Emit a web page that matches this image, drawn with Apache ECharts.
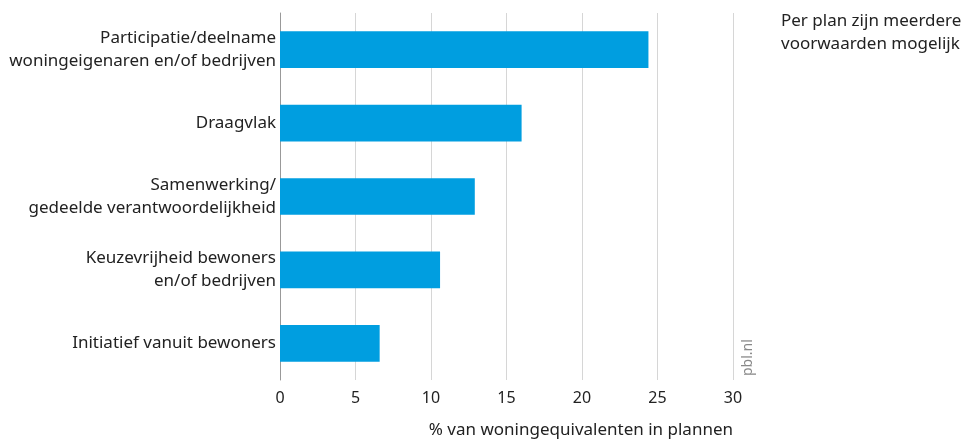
<!DOCTYPE html>
<html>
<head>
<meta charset="utf-8">
<script src="https://cdn.jsdelivr.net/npm/echarts@6/dist/echarts.min.js"></script>
<style>
  html, body { margin: 0; padding: 0; background: #fff; }
  #chart { width: 961px; height: 441px; }
</style>
</head>
<body>
<div id="chart"></div>
<script>
// categories top to bottom
const categories = [
    'Participatie/deelname\nwoningeigenaren en/of bedrijven',
    'Draagvlak',
    'Samenwerking/\ngedeelde verantwoordelijkheid',
    'Keuzevrijheid bewoners\nen/of bedrijven',
    'Initiatief vanuit bewoners'
];
const values = [24.4, 16.0, 12.9, 10.6, 6.6];
const tickMin = 0, tickMax = 30, tickStep = 5;

const font = '"Noto Sans", "Open Sans", sans-serif';
const chart = echarts.init(document.getElementById('chart'));

chart.setOption({
    animation: false,
    textStyle: {fontFamily: font},
    grid: {left: 280, right: 228, top: 13, bottom: 61, containLabel: false},
    xAxis: {
        type: 'value',
        min: tickMin,
        max: tickMax,
        interval: tickStep,
        axisLine: {show: false},
        axisTick: {show: false},
        axisLabel: {color: '#222', fontSize: 16, margin: 10, fontFamily: font},
        splitLine: {lineStyle: {color: '#d6d6d6', width: 1}}
    },
    yAxis: {
        type: 'category',
        inverse: true,
        data: categories,
        axisLine: {show: true, lineStyle: {color: '#999', width: 1}},
        axisTick: {show: false},
        axisLabel: {color: '#222', fontSize: 17, lineHeight: 23, margin: 4, fontFamily: font}
    },
    series: [{
        type: 'bar',
        data: values,
        barWidth: '50%',
        itemStyle: {color: '#009ee0'}
    }],
    graphic: [
        {
            type: 'text', right: 228, top: 422,
            style: {text: '% van woningequivalenten in plannen', fill: '#222', font: '17px ' + font}
        },
        {
            type: 'text', left: 781, top: 10,
            style: {text: 'Per plan zijn meerdere\nvoorwaarden mogelijk', fill: '#222', font: '17px ' + font, lineHeight: 23}
        },
        {
            type: 'text', x: 741, y: 376, rotation: Math.PI / 2,
            style: {text: 'pbl.nl', fill: '#888', font: '14px ' + font}
        }
    ]
});
</script>
</body>
</html>
